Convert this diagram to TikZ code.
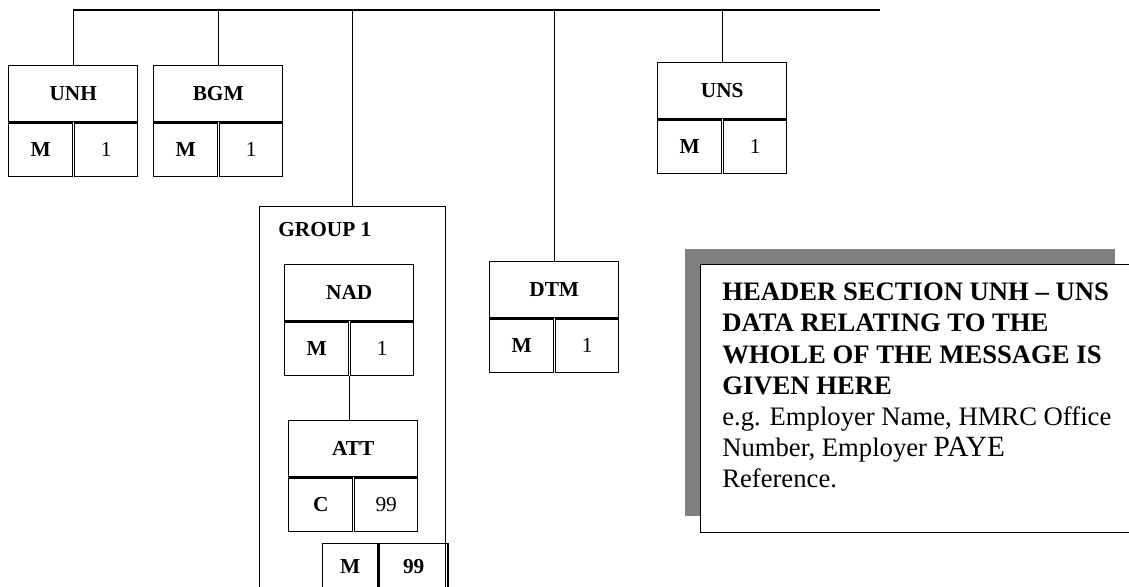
\documentclass[tikz,border=0pt]{standalone}
\usepackage{fontspec}
\setmainfont{Liberation Serif}
\usetikzlibrary{positioning}

\begin{document}
\begin{tikzpicture}[x=0.75pt, y=-0.75pt,
    seg/.style={rectangle, draw=black, line width=1.1pt, minimum width=96.75pt, minimum height=42pt, inner sep=0pt, anchor=north west, font=\fontsize{16}{18}\selectfont\bfseries},
    cellL/.style={rectangle, draw=black, line width=1.1pt, minimum width=48pt, minimum height=40pt, inner sep=0pt, anchor=north west, font=\fontsize{16}{18}\selectfont\bfseries},
    cellR/.style={rectangle, draw=black, line width=1.1pt, minimum width=47.25pt, minimum height=40pt, inner sep=0pt, anchor=north east, font=\fontsize{16}{18}\selectfont},
    link/.style={draw, line width=1.1pt},
    note/.style={font=\fontsize{20}{23.3}\selectfont, align=left, inner sep=0pt, anchor=north west}
]
    \useasboundingbox (0,0) rectangle (1129,586);
    \clip (0,0) rectangle (1129,586);

    % Segments on the top line
    \node[seg] (unh) at (8,65) {UNH};
    \node[cellL] (unhM) at (unh.south west) {M};
    \node[cellR] (unhR) at (unh.south east) {1};

    \node[seg] (bgm) at (153,65) {BGM};
    \node[cellL] (bgmM) at (bgm.south west) {M};
    \node[cellR] (bgmR) at (bgm.south east) {1};

    \node[seg] (uns) at (657,62) {UNS};
    \node[cellL] (unsM) at (uns.south west) {M};
    \node[cellR] (unsR) at (uns.south east) {1};

    \node[seg] (dtm) at (489,261) {DTM};
    \node[cellL] (dtmM) at (dtm.south west) {M};
    \node[cellR] (dtmR) at (dtm.south east) {1};

    % Group 1
    \node[draw, line width=1.1pt, minimum width=139.5pt, minimum height=310pt, inner sep=0pt, anchor=north west] (grp) at (259,206) {};
    \node[anchor=base west, inner sep=0pt, font=\fontsize{16}{18}\selectfont\bfseries] (grplabel) at (278,236) {GROUP 1};

    \node[seg] (nad) at (284,264) {NAD};
    \node[cellL] (nadM) at (nad.south west) {M};
    \node[cellR] (nadR) at (nad.south east) {1};

    \node[seg] (att) at (288,420) {ATT};
    \node[cellL] (attM) at (att.south west) {C};
    \node[cellR] (attR) at (att.south east) {99};

    \node[cellL, minimum width=41.25pt, minimum height=34pt] (grpM) at (322,543) {M};
    \node[cellL, minimum width=51.75pt, minimum height=34pt] (grpR) at (grpM.north east) {99};

    % Header note
    \fill[black!50] (685,249) rectangle (1115,516);
    \node[draw, fill=white, line width=1.1pt, minimum width=330pt, minimum height=201pt, inner sep=0pt, anchor=north west] (hdrbox) at (700,264) {};
    \node[note] (hdrtext) at (722,283) {\textbf{HEADER SECTION UNH – UNS}\\\textbf{DATA RELATING TO THE}\\\textbf{WHOLE OF THE MESSAGE IS}\\\textbf{GIVEN HERE}\\e.g. Employer Name, HMRC Office\\Number, Employer {\fontsize{22}{23.3}\selectfont PAYE}\\Reference.};

    % Connectors
    \coordinate (busend) at (880,10);
    \path[link] (unh.north) |- (busend);
    \path[link] (bgm.north) -- (bgm.north |- busend);
    \path[link] (grp.north) -- (grp.north |- busend);
    \path[link] (dtm.north) -- (dtm.north |- busend);
    \path[link] (uns.north) -- (uns.north |- busend);
    \path[link] (nadM.south east) -- (nadM.south east |- att.north);
\end{tikzpicture}
\end{document}
